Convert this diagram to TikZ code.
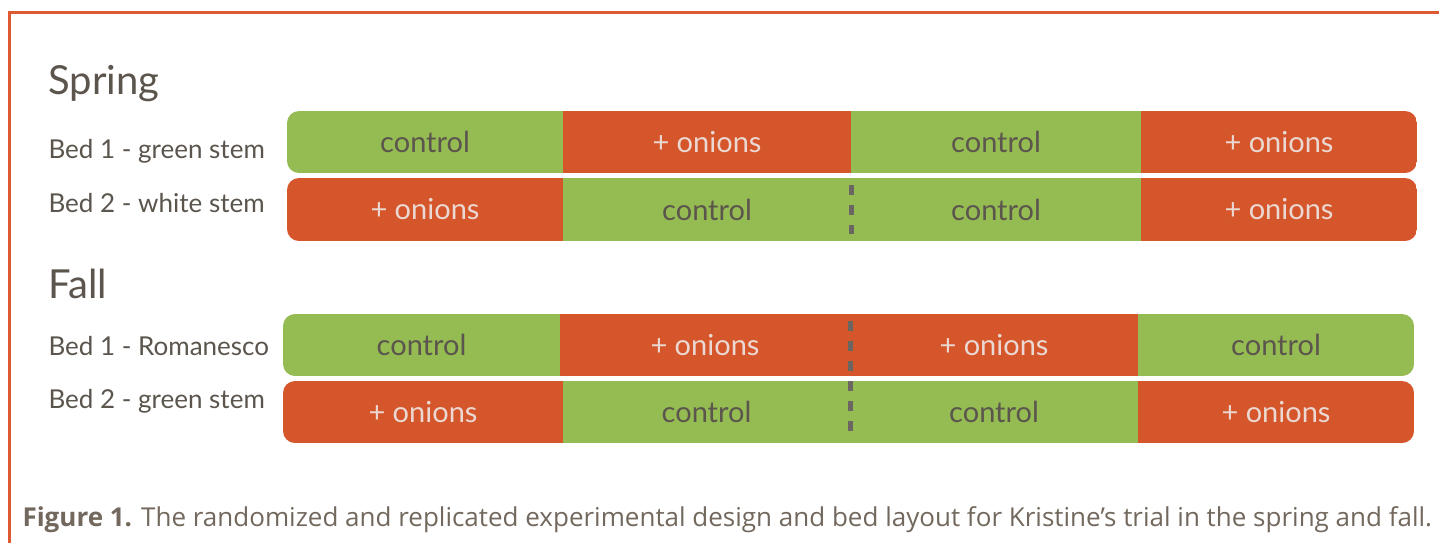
\documentclass[tikz,border=0pt]{standalone}
\usepackage{fontspec}
\setmainfont{Lato}
\newfontfamily\capfont{Open Sans}
\usepackage{xcolor}
\usetikzlibrary{positioning}

\definecolor{bedgreen}{HTML}{95BB53}
\definecolor{bedorange}{HTML}{D5562B}
\definecolor{frameorange}{HTML}{DF5A33}
\definecolor{labelgray}{HTML}{5B554D}
\definecolor{capgray}{HTML}{72685D}
\definecolor{onionpink}{HTML}{EBD8D2}

\begin{document}
\begin{tikzpicture}[x=1pt,y=-1pt,node distance=0pt,
  season label/.style={anchor=base west,text=labelgray,font=\fontsize{40}{48}\selectfont},
  bed label/.style={anchor=base west,text=labelgray,font=\fontsize{26}{31}\selectfont},
  plot node/.style={rectangle,inner sep=0pt,outer sep=0pt,minimum height=62pt,font=\fontsize{29}{34}\selectfont},
  control node/.style={plot node,fill=bedgreen,text=labelgray},
  onion node/.style={plot node,fill=bedorange,text=onionpink},
  split line/.style={line width=5pt,draw=labelgray!90,dash pattern=on 10pt off 10pt,shorten >=7pt,shorten <=7pt}]

  \useasboundingbox (0,0) rectangle (1439,542);
  \fill[white] (0,0) rectangle (1439,542);

  % frame
  \draw[frameorange,line width=3pt] (1445,12) -- (9,12) -- (9,548);

  % season and bed labels
  \node[season label] (spring) at (45,94)  {Spring};
  \node[bed label]    (sb1)    at (45,158) {Bed 1 - green stem};
  \node[bed label]    (sb2)    at (45,212) {Bed 2 - white stem};
  \node[season label] (fall)   at (45,298) {Fall};
  \node[bed label]    (fb1)    at (45,355) {Bed 1 - Romanesco};
  \node[bed label]    (fb2)    at (45,408) {Bed 2 - green stem};

  % spring, bed 1
  \begin{scope}
    \clip[rounded corners=12pt] (287,111) rectangle (1417,173);
    \node[control node,minimum width=276pt,anchor=north west] (s11) at (287,111) {control};
    \node[onion node,minimum width=288pt,right=of s11]   (s12) {+ onions};
    \node[control node,minimum width=290pt,right=of s12] (s13) {control};
    \node[onion node,minimum width=276pt,right=of s13]   (s14) {+ onions};
  \end{scope}

  % spring, bed 2
  \begin{scope}
    \clip[rounded corners=12pt] (287,178) rectangle (1417,241);
    \node[onion node,minimum width=276pt,minimum height=63pt,anchor=north west] (s21) at (287,178) {+ onions};
    \node[control node,minimum width=288pt,minimum height=63pt,right=of s21] (s22) {control};
    \node[control node,minimum width=290pt,minimum height=63pt,right=of s22] (s23) {control};
    \node[onion node,minimum width=276pt,minimum height=63pt,right=of s23]   (s24) {+ onions};
  \end{scope}

  % fall, bed 1
  \begin{scope}
    \clip[rounded corners=12pt] (283,314) rectangle (1414,376);
    \node[control node,minimum width=277pt,anchor=north west] (f11) at (283,314) {control};
    \node[onion node,minimum width=290pt,right=of f11]   (f12) {+ onions};
    \node[onion node,minimum width=288pt,right=of f12]   (f13) {+ onions};
    \node[control node,minimum width=276pt,right=of f13] (f14) {control};
  \end{scope}

  % fall, bed 2
  \begin{scope}
    \clip[rounded corners=12pt] (283,381) rectangle (1414,443);
    \node[onion node,minimum width=280pt,anchor=north west] (f21) at (283,381) {+ onions};
    \node[control node,minimum width=287pt,right=of f21] (f22) {control};
    \node[control node,minimum width=288pt,right=of f22] (f23) {control};
    \node[onion node,minimum width=276pt,right=of f23]   (f24) {+ onions};
  \end{scope}

  % replicate splits
  \draw[split line] (s22.north east) -- (s22.south east);
  \draw[split line] (f12.north east) -- (f22.south east);

  % caption
  \node[anchor=base west,text=capgray,font=\capfont\fontsize{26}{31}\selectfont] (cap) at (19,526)
    {\textbf{Figure 1.} The randomized and replicated experimental design and bed layout for Kristine’s trial in the spring and fall.};
\end{tikzpicture}
\end{document}
